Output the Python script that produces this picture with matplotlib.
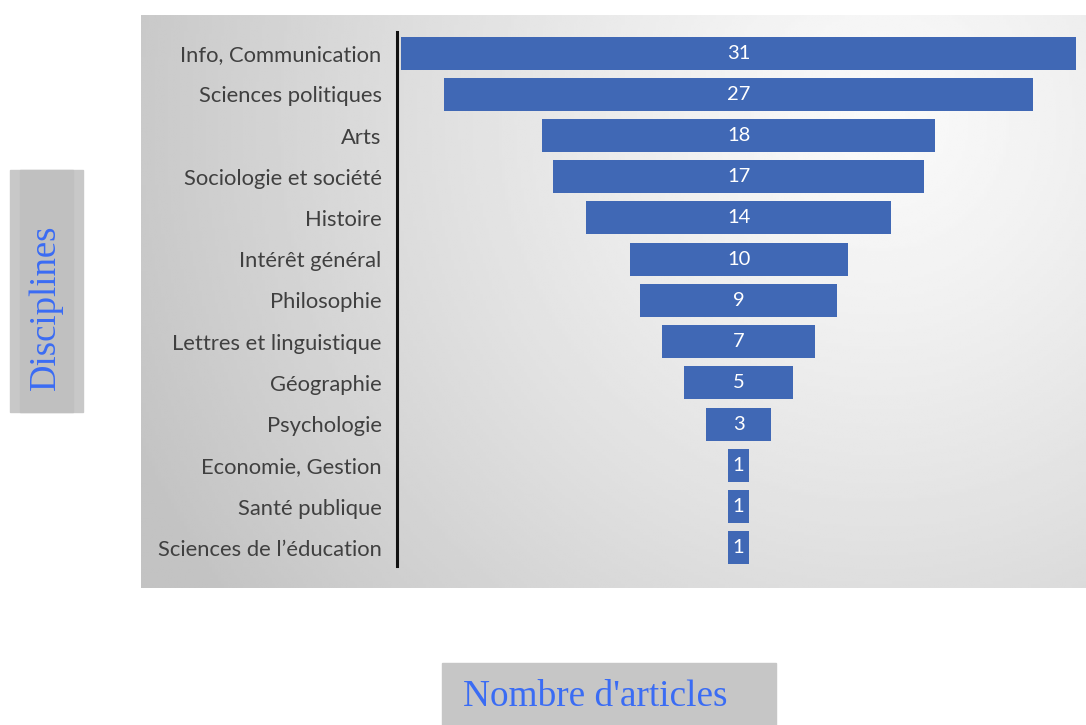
import numpy as np
from matplotlib import pyplot as plt
from matplotlib.patches import Rectangle

disciplines = ['Info, Communication', 'Sciences politiques', 'Arts',
               'Sociologie et société', 'Histoire', 'Intérêt général',
               'Philosophie', 'Lettres et linguistique', 'Géographie',
               'Psychologie', 'Economie, Gestion', 'Santé publique',
               'Sciences de l’éducation']
articles = [31, 27, 18, 17, 14, 10, 9, 7, 5, 3, 1, 1, 1]

W, H = 1086, 725
my_dpi = 100
fig = plt.figure(figsize=(W / my_dpi, H / my_dpi), dpi=my_dpi)
fig.patch.set_facecolor('white')


def px_box(x0, y0, x1, y1):
    # pixel box (top-left origin) -> figure fraction rect
    return [x0 / W, 1 - y1 / H, (x1 - x0) / W, (y1 - y0) / H]


# grey gradient panel behind the funnel
bg = fig.add_axes(px_box(141, 15, 1086, 588))
gx, gy = np.meshgrid(np.linspace(141, 1086, 300), np.linspace(15, 588, 200))
dist = np.hypot(gx - 880, gy - 120) / 820
shade = 250 - 55 * np.clip(dist, 0, 1) ** 1.2
bg.imshow(shade, cmap='gray', vmin=0, vmax=255, aspect='auto',
          interpolation='bilinear')
bg.axis('off')

# funnel axes
ax = fig.add_axes(px_box(397, 32, 1086, 566))
ax.patch.set_alpha(0)
y = np.arange(len(disciplines))
vals = np.array(articles)
bars = ax.barh(y, vals, left=-vals / 2, height=0.8, color='#4068b5')

for bar, v in zip(bars, articles):
    ax.annotate(str(v),
                xy=(bar.get_x() + bar.get_width() / 2,
                    bar.get_y() + bar.get_height() / 2),
                ha='center', va='center', color='white',
                family='Lato', size=14.5)

ax.set_xlim(-15.67, 15.94)
ax.set_ylim(12.44, -0.51)
ax.set_yticks(y)
ax.set_yticklabels(disciplines, family='Lato', size=15.8, color='#404040')
ax.tick_params(axis='y', length=0, pad=11)
ax.set_xticks([])
for side in ['top', 'right', 'bottom']:
    ax.spines[side].set_visible(False)
ax.spines['left'].set_linewidth(2.2)
ax.spines['left'].set_color('#111111')

# boxed axis titles
fig.patches.append(Rectangle((10 / W, 1 - 412 / H), 73 / W, 242 / H,
                             transform=fig.transFigure,
                             color='#c8c8c8', zorder=0))
fig.patches.append(Rectangle((20 / W, 1 - 412 / H), 53 / W, 242 / H,
                             transform=fig.transFigure,
                             color='#c0c0c0', zorder=0))
fig.text(46 / W, 1 - 307 / H, 'Disciplines', rotation=90,
         ha='center', va='center', family='Liberation Serif',
         size=26.5, color='#3a6cf4')

fig.patches.append(Rectangle((442 / W, 0), 334 / W, 62 / H,
                             transform=fig.transFigure,
                             color='#c6c6c6', zorder=0))
fig.text(595 / W, 1 - 697 / H, "Nombre d'articles",
         ha='center', va='center', family='Liberation Serif',
         size=26.8, color='#3a6cf4')

fig.savefig('out.png', dpi=my_dpi)
